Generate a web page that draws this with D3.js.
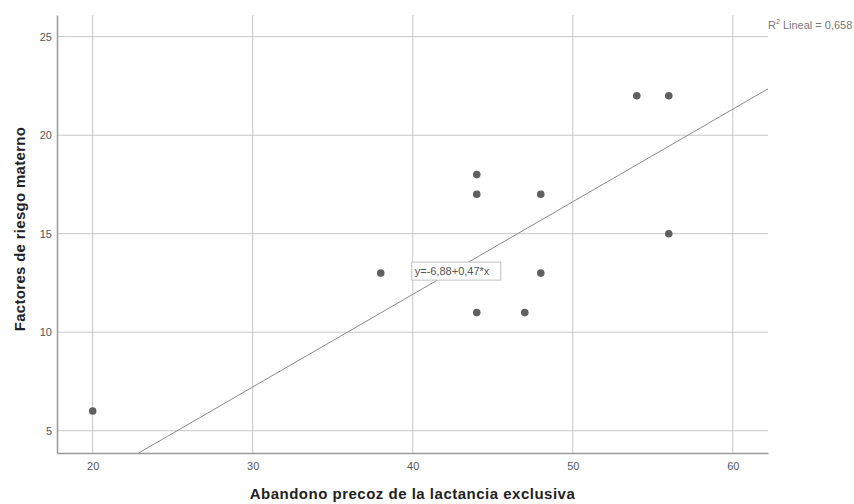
<!DOCTYPE html>
<html>
<head>
<meta charset="utf-8">
<script src="https://cdn.jsdelivr.net/npm/d3@7"></script>
<style>
  body { margin: 0; background: #fff; }
  svg { font-family: Arial, 'Liberation Sans', sans-serif; }
</style>
</head>
<body>
<div class="wrapper"></div>
<script>
const abandono = [20, 38, 44, 44, 44, 47, 48, 48, 54, 56, 56]
const factores = [6, 13, 18, 17, 11, 11, 17, 13, 22, 22, 15]
const xTicks = [20, 30, 40, 50, 60]
const yTicks = [5, 10, 15, 20, 25]
const fit = { intercept: -6.88, slope: 0.47, r2: '0,658', label: 'y=-6,88+0,47*x' }

const width = 854,
  height = 504,
  margin = { top: 15, right: 86, bottom: 51, left: 57 }

const x = d3.scaleLinear()
  .domain([17.77, 62.2])
  .range([margin.left, width - margin.right])

const y = d3.scaleLinear()
  .domain([3.87, 26.1])
  .range([height - margin.bottom, margin.top])

const svg = d3.select('.wrapper')
  .append('svg')
  .attr('width', width)
  .attr('height', height)

// grid
svg.append('g')
  .selectAll('line')
  .data(xTicks)
  .enter().append('line')
  .attr('x1', d => x(d)).attr('x2', d => x(d))
  .attr('y1', y.range()[1]).attr('y2', y.range()[0])
  .attr('stroke', '#c6c6c6')

svg.append('g')
  .selectAll('line')
  .data(yTicks)
  .enter().append('line')
  .attr('x1', x.range()[0]).attr('x2', x.range()[1])
  .attr('y1', d => y(d)).attr('y2', d => y(d))
  .attr('stroke', '#c6c6c6')

// axes
const xAxis = svg.append('g')
  .attr('transform', `translate(0, ${y.range()[0]})`)
  .call(d3.axisBottom(x).tickValues(xTicks).tickSize(0).tickPadding(9))
xAxis.select('.domain').attr('stroke', '#999').attr('stroke-width', 1.5)
xAxis.selectAll('text').attr('font-size', '11px').attr('fill', '#555')

const yAxis = svg.append('g')
  .attr('transform', `translate(${x.range()[0]}, 0)`)
  .call(d3.axisLeft(y).tickValues(yTicks).tickSize(0).tickPadding(5))
yAxis.select('.domain').attr('stroke', '#999').attr('stroke-width', 1.5)
yAxis.selectAll('text').attr('font-size', '11px').attr('fill', '#555')

// fit line
const x0 = (y.domain()[0] - fit.intercept) / fit.slope
const x1 = x.domain()[1]
svg.append('line')
  .attr('x1', x(x0)).attr('y1', y(fit.intercept + fit.slope * x0))
  .attr('x2', x(x1)).attr('y2', y(fit.intercept + fit.slope * x1))
  .attr('stroke', '#8a8a8a')
  .attr('stroke-width', 1)

// points
svg.append('g')
  .selectAll('circle')
  .data(abandono.map((d, i) => ({ x: d, y: factores[i] })))
  .enter().append('circle')
  .attr('cx', d => x(d.x))
  .attr('cy', d => y(d.y))
  .attr('r', 3.8)
  .attr('fill', '#606060')

// equation label
const eq = svg.append('g')
  .attr('transform', `translate(${x(40) - 1}, ${y(13) - 11})`)
eq.append('rect')
  .attr('width', 89).attr('height', 18)
  .attr('fill', '#fff')
  .attr('stroke', '#c0c0c0')
eq.append('text')
  .attr('x', 3).attr('y', 13)
  .attr('font-size', '11px')
  .attr('fill', '#555')
  .text(fit.label)

// R2 label
const r2 = svg.append('text')
  .attr('x', x.range()[1])
  .attr('y', 29)
  .attr('font-size', '11px')
  .attr('fill', '#777')
r2.append('tspan').text('R')
r2.append('tspan').attr('font-size', '7px').attr('dy', -5).text('2')
r2.append('tspan').attr('dy', 5).text(' Lineal = ' + fit.r2)

// axis titles
svg.append('text')
  .attr('x', (x.range()[0] + x.range()[1]) / 2)
  .attr('y', 499)
  .attr('text-anchor', 'middle')
  .attr('font-size', '15px')
  .attr('font-weight', 'bold')
  .attr('letter-spacing', '0.5px')
  .attr('fill', '#222')
  .text('Abandono precoz de la lactancia exclusiva')

svg.append('text')
  .attr('transform', 'translate(25, 229) rotate(-90)')
  .attr('text-anchor', 'middle')
  .attr('font-size', '15px')
  .attr('font-weight', 'bold')
  .attr('letter-spacing', '0.3px')
  .attr('fill', '#222')
  .text('Factores de riesgo materno')
</script>
</body>
</html>
